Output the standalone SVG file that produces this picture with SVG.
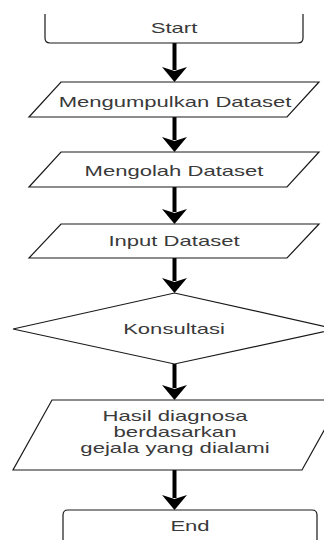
<svg xmlns="http://www.w3.org/2000/svg" width="324" height="540" viewBox="0 0 324 540">
<style>
.shape{fill:#fff;stroke:#1a1a1a;stroke-width:1.2}
.lbl{font-family:"Liberation Sans",Arial,sans-serif;font-size:15px;fill:#3a3a3a;text-anchor:middle}
.ml{font-size:14px}
.conn line{stroke:#000;stroke-width:4}
.conn polygon{fill:#000}
</style>
<defs>
<polygon id="ah" points="0,0 -12.5,-15 0,-11 12.5,-15"/>
</defs>
<rect width="324" height="540" fill="#fff"/>
<g id="connectors" class="conn">
<line x1="174.5" y1="43" x2="174.5" y2="70"/><use href="#ah" x="174.5" y="82"/>
<line x1="174.5" y1="117" x2="174.5" y2="140"/><use href="#ah" x="174.5" y="152"/>
<line x1="174.5" y1="187" x2="174.5" y2="212"/><use href="#ah" x="174.5" y="224"/>
<line x1="174.5" y1="258" x2="174.5" y2="281"/><use href="#ah" x="174.5" y="293"/>
<line x1="174.5" y1="364" x2="174.5" y2="388"/><use href="#ah" x="174.5" y="400"/>
<line x1="174.5" y1="470" x2="174.5" y2="498"/><use href="#ah" x="174.5" y="510"/>
</g>
<g id="start">
<path class="shape" d="M45,14 V38 Q45,43 50,43 H298 Q303,43 303,38 V14"/>
<text class="lbl" transform="translate(174,33) scale(1.47,1)">Start</text>
</g>
<g id="mengumpulkan">
<polygon class="shape" points="61,82 319,82 287,117 29,117"/>
<text class="lbl" transform="translate(175,106.5) scale(1.47,1)">Mengumpulkan Dataset</text>
</g>
<g id="mengolah">
<polygon class="shape" points="61,152 319,152 287,187 29,187"/>
<text class="lbl" transform="translate(174,175.5) scale(1.47,1)">Mengolah Dataset</text>
</g>
<g id="input">
<polygon class="shape" points="61,224 319,224 287,258 29,258"/>
<text class="lbl" transform="translate(174,246) scale(1.47,1)">Input Dataset</text>
</g>
<g id="konsultasi">
<polygon class="shape" points="174.5,293 336,329 174.5,364 13,329"/>
<text class="lbl" transform="translate(174,334) scale(1.47,1)">Konsultasi</text>
</g>
<g id="hasil">
<polygon class="shape" points="52,400 341,400 302,470 13,470"/>
<text class="lbl ml" transform="translate(175,420.5) scale(1.58,1)">Hasil diagnosa</text>
<text class="lbl ml" transform="translate(175,436.5) scale(1.58,1)">berdasarkan</text>
<text class="lbl ml" transform="translate(175,452.5) scale(1.58,1)">gejala yang dialami</text>
</g>
<g id="end">
<path class="shape" d="M63,541 V515 Q63,510 68,510 H312 Q317,510 317,515 V541"/>
<text class="lbl" transform="translate(190,531) scale(1.47,1)">End</text>
</g>
</svg>
